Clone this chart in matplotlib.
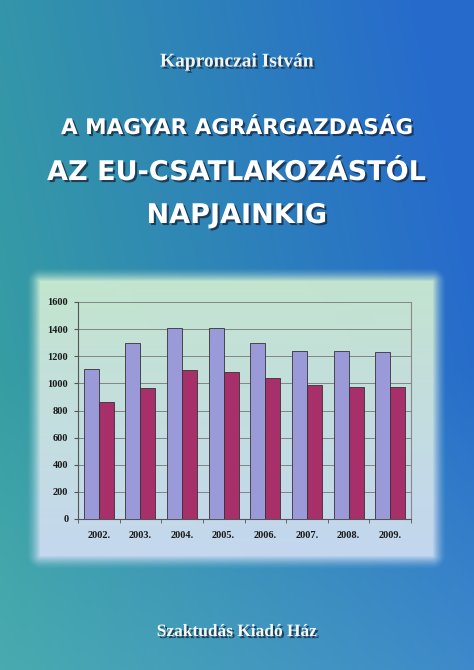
import matplotlib
matplotlib.use('Agg')
import matplotlib.pyplot as plt
import matplotlib.patheffects as pe
import numpy as np

years = ['2002.', '2003.', '2004.', '2005.', '2006.', '2007.', '2008.', '2009.']
series_a = [1105, 1300, 1405, 1410, 1300, 1240, 1240, 1230]
series_b = [860, 965, 1095, 1085, 1040, 985, 970, 975]
y_ticks = [0, 200, 400, 600, 800, 1000, 1200, 1400, 1600]

W, H = 474, 670
fig = plt.figure(figsize=(W / 100, H / 100), dpi=100)

# cover background gradient
bg = fig.add_axes([0, 0, 1, 1])
yy, xx = np.mgrid[0:1:300j, 0:1:300j]
teal = np.array([0.22, 0.64, 0.62])
blue = np.array([0.15, 0.42, 0.80])
light = np.array([0.45, 0.75, 0.85])
t = np.clip(xx * 0.85 + (1 - yy) * 0.25, 0, 1)[..., None]
img = teal * (1 - t) + blue * t
s = np.clip((yy - 0.55) * 1.6, 0, 1)[..., None]
img = img * (1 - s * 0.4) + light * s * 0.4
bg.imshow(img, extent=[0, 1, 0, 1], aspect='auto', origin='upper')

# soft glowing panel behind the chart (pixel coords of the panel)
px0, px1, py0, py1 = 40, 432, 282, 555
ext = 14
gy, gx = np.mgrid[py0 - ext:py1 + ext, px0 - ext:px1 + ext]
dx = np.maximum(np.maximum(px0 - gx, gx - px1), 0)
dy = np.maximum(np.maximum(py0 - gy, gy - py1), 0)
d = np.sqrt(dx ** 2 + dy ** 2)
alpha = np.clip(1 - d / ext, 0, 1) ** 1.5
v = (gy - py0) / (py1 - py0)
top = np.array([0.80, 0.92, 0.82])
bot = np.array([0.80, 0.86, 0.95])
vv = np.clip(v, 0, 1)[..., None]
col = top * (1 - vv) + bot * vv
panel = np.dstack([col, alpha * 0.95])
bg.imshow(panel, extent=[(px0 - ext) / W, (px1 + ext) / W,
                         1 - (py1 + ext) / H, 1 - (py0 - ext) / H],
          aspect='auto', origin='upper')
bg.set_xlim(0, 1)
bg.set_ylim(0, 1)
bg.axis('off')

shadow = [pe.SimplePatchShadow(offset=(1.5, -1.5), shadow_rgbFace='#1a2a40', alpha=0.8),
          pe.Normal()]
fig.text(0.5, 1 - 62 / H, 'Kapronczai István', ha='center', va='center',
         family='Liberation Serif', weight='bold', fontsize=14, color='#eef4f4',
         path_effects=shadow)
title_font = ['Liberation Sans Narrow', 'DejaVu Sans Condensed', 'DejaVu Sans']
fig.text(0.5, 1 - 128 / H, 'A MAGYAR AGRÁRGAZDASÁG', ha='center', va='center',
         family=title_font, weight='bold', fontsize=15.5, color='white', path_effects=shadow)
fig.text(0.5, 1 - 173 / H, 'AZ EU-CSATLAKOZÁSTÓL', ha='center', va='center',
         family=title_font, weight='bold', fontsize=19.5, color='white', path_effects=shadow)
fig.text(0.5, 1 - 216 / H, 'NAPJAINKIG', ha='center', va='center',
         family=title_font, weight='bold', fontsize=19.5, color='white', path_effects=shadow)
fig.text(0.5, 1 - 632 / H, 'Szaktudás Kiadó Ház', ha='center', va='center',
         family='Liberation Serif', weight='bold', fontsize=12.5, color='#f4f8f8',
         path_effects=shadow)

# chart
ax = fig.add_axes([78 / W, 1 - 519 / H, 333 / W, 217 / H])
ax.patch.set_alpha(0)
x = np.arange(len(years))
w = 0.36
ax.bar(x - w / 2, series_a, w, color='#9a9ad8', edgecolor='#333333', lw=0.6, zorder=3)
ax.bar(x + w / 2, series_b, w, color='#a8306a', edgecolor='#333333', lw=0.6, zorder=3)
ax.set_ylim(0, 1600)
ax.set_xlim(-0.5, len(years) - 0.5)
ax.set_yticks(y_ticks)
ax.set_xticks(x)
ax.set_xticklabels(years)
ax.set_xticks(np.arange(len(years) + 1) - 0.5, minor=True)
ax.tick_params(axis='x', which='major', length=0, pad=9)
ax.tick_params(axis='x', which='minor', length=3, color='#555555')
ax.tick_params(axis='y', length=3, color='#555555', pad=4)
for lab in ax.get_xticklabels() + ax.get_yticklabels():
    lab.set_family('Liberation Serif')
    lab.set_fontweight('bold')
    lab.set_fontsize(7.5)
    lab.set_color('#1a1a1a')
ax.grid(axis='y', color='#777777', lw=0.6, zorder=0)
ax.spines['top'].set_visible(False)
ax.spines['right'].set_color('#888888')
ax.spines['left'].set_color('#555555')
ax.spines['bottom'].set_color('#555555')

fig.savefig('out.png', dpi=100)
